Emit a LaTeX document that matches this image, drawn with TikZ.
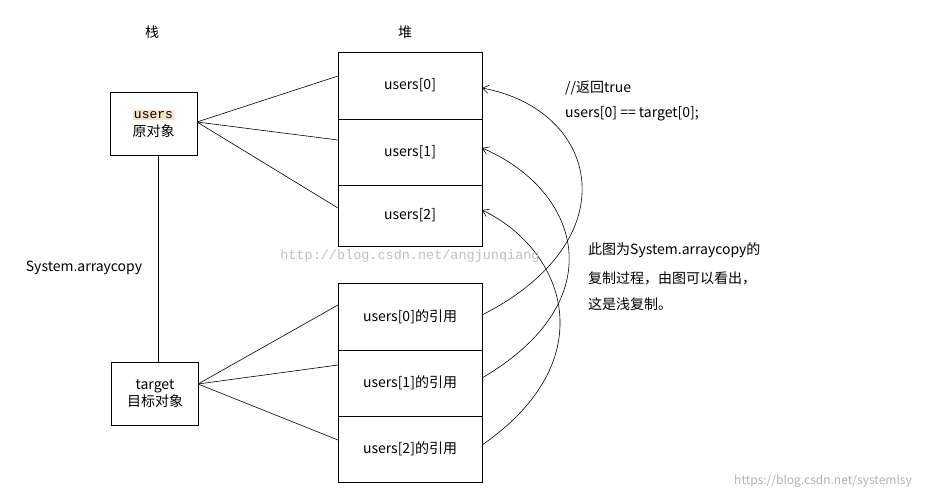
\documentclass[tikz,border=0pt]{standalone}
\usepackage{fontspec}
\setmainfont{Noto Sans CJK SC}
\newfontfamily\monof{Liberation Mono}
\usetikzlibrary{arrows.meta}
\begin{document}
\begin{tikzpicture}[x=1pt,y=-1pt,font=\fontsize{14}{16}\selectfont,
  cell/.style={draw,line width=0.7pt,minimum width=144pt,inner sep=0pt},
  obj/.style={draw,line width=0.7pt,minimum width=87pt,minimum height=63pt,inner sep=0pt,align=center,font=\fontsize{14}{17}\selectfont},
  link/.style={line width=0.6pt},
  ref/.style={line width=0.6pt,-{Straight Barb[length=6pt,width=8pt]}},
  lbl/.style={anchor=west,inner sep=0pt}]
\useasboundingbox (0,0) rectangle (938,499);
\node at (152,32) {栈};
\node at (405,32) {堆};
\node[cell,minimum height=67pt] (h0) at (410,85.5) {users[0]};
\node[cell,minimum height=66pt] (h1) at (410,152) {users[1]};
\node[cell,minimum height=61pt] (h2) at (410,215.5) {users[2]};
\node[cell,minimum height=67pt] (r0) at (410,316.5) {users[0]的引用};
\node[cell,minimum height=66pt] (r1) at (410,383) {users[1]的引用};
\node[cell,minimum height=66pt] (r2) at (410,449) {users[2]的引用};
\node[obj] (u) at (153.5,124) {{\setlength{\fboxsep}{1pt}\colorbox[HTML]{F3E3C3}{\monof\fontsize{13}{13}\selectfont users}}\\[1pt]原对象};
\node[obj] (t) at (155,393.5) {target\\目标对象};
\coordinate (uo) at (197,122);
\coordinate (to) at (198,384);
\draw[link] (uo) -- (338,76);
\draw[link] (uo) -- (338,140);
\draw[link] (uo) -- (338,208);
\draw[link] (to) -- (338,305);
\draw[link] (to) -- (338,365);
\draw[link] (to) -- (338,440);
\draw[link] (u.south -| 158,0) -- (t.north -| 158,0);
\node[inner sep=1pt] at (84,268) {System.arraycopy};
\draw[ref] (482,315) .. controls (630,240) and (600,110) .. (482,88);
\draw[ref] (482,378) .. controls (615,300) and (580,190) .. (482,148);
\draw[ref] (482,445) .. controls (605,360) and (565,250) .. (482,210);
\node[lbl] at (565,88) {//返回true};
\node[lbl] at (565,114) {users[0] == target[0];};
\node[lbl] at (588,250) {此图为System.arraycopy的};
\node[lbl] at (588,278) {复制过程，由图可以看出，};
\node[lbl] at (588,304) {这是浅复制。};
\node[text=black!25,font=\monof\fontsize{13.5}{13}\selectfont] at (410,256) {http://blog.csdn.net/angjunqiang};
\node[text=black!30,font=\fontsize{12}{12}\selectfont] at (823,481) {https://blog.csdn.net/systemlsy};
\end{tikzpicture}
\end{document}
